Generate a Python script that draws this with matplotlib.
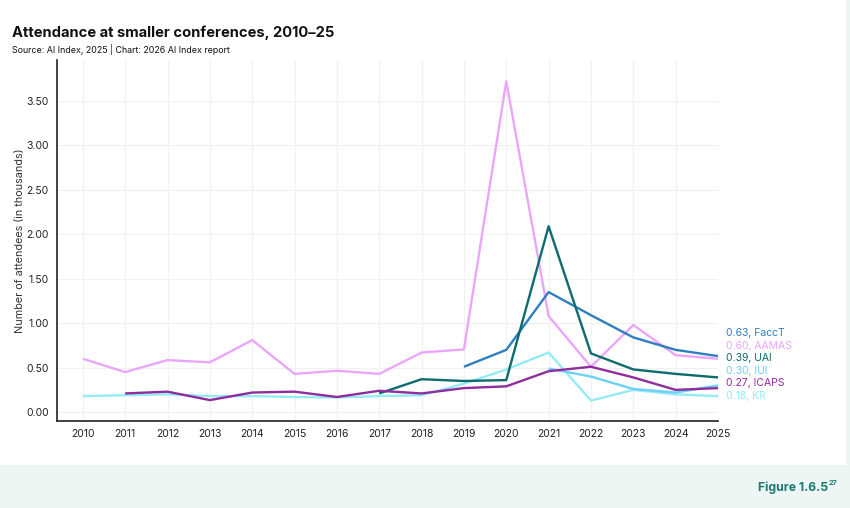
import matplotlib.pyplot as plt
import matplotlib.patches as mpatches
import numpy as np

plt.rcParams['font.family'] = ['Inter', 'DejaVu Sans']

years = list(range(2010, 2026))

# attendance in thousands, None = no data
aamas = [0.60, 0.45, 0.585, 0.56, 0.81, 0.43, 0.465, 0.43, 0.67, 0.705, 3.72, 1.08, 0.51, 0.98, 0.64, 0.60]
facct = [None] * 9 + [0.51, 0.70, 1.35, 1.09, 0.84, 0.70, 0.63]
uai = [None] * 7 + [0.21, 0.37, 0.35, 0.36, 2.09, 0.66, 0.48, 0.43, 0.39]
iui = [None] * 11 + [0.49, 0.40, 0.26, 0.22, 0.30]
icaps = [None, 0.21, 0.23, 0.135, 0.22, 0.23, 0.17, 0.24, 0.21, 0.27, 0.29, 0.46, 0.51, 0.39, 0.25, 0.27]
kr = [0.18, 0.19, 0.20, 0.18, 0.18, 0.17, 0.165, 0.18, 0.19, 0.32, 0.48, 0.67, 0.13, 0.25, 0.20, 0.18]

names = ['FaccT', 'AAMAS', 'UAI', 'IUI', 'ICAPS', 'KR']
series = [facct, aamas, uai, iui, icaps, kr]
colors = ['#2e7ec0', '#eaa6fb', '#0d6b6e', '#6dd0f7', '#8e2d9b', '#93ecf3']
# draw order (back to front)
order = ['KR', 'AAMAS', 'IUI', 'FaccT', 'UAI', 'ICAPS']

mint = '#edf6f3'
fig = plt.figure(figsize=(8.5, 5.08), dpi=100, facecolor=mint)
fig.patches.append(mpatches.Rectangle((0, 43 / 508), 846 / 850, 1, transform=fig.transFigure,
                                      facecolor='white', edgecolor='none', zorder=-10))

ax = fig.add_axes([57 / 850, 87 / 508, 661 / 850, 361 / 508])
ax.set_facecolor('white')

for nm in order:
    i = names.index(nm)
    y = np.array([np.nan if v is None else v for v in series[i]], dtype=float)
    ax.plot(years, y, color=colors[i], lw=1.7, solid_capstyle='butt', zorder=3)

ax.set_xlim(2009.39, 2025)
ax.set_ylim(-0.1, 3.96)
ax.set_xticks(years)
ax.set_xticklabels([str(y) for y in years], fontsize=7.5, color='#222222')
ax.set_yticks(np.arange(0, 3.51, 0.5))
ax.set_yticklabels(['%.2f' % v for v in np.arange(0, 3.51, 0.5)], fontsize=7.5, color='#222222')
ax.tick_params(length=0, pad=6)
ax.grid(True, color='#f1f1f1', lw=0.8, zorder=0)
ax.set_axisbelow(True)
for s in ['top', 'right']:
    ax.spines[s].set_visible(False)
for s in ['left', 'bottom']:
    ax.spines[s].set_color('#222222')
    ax.spines[s].set_linewidth(1.2)
ax.set_ylabel('Number of attendees (in thousands)', fontsize=7.8, color='#333333', labelpad=1)

# end labels, pushed apart from the bottom up
last = [[v for v in s if v is not None][-1] for s in series]
idx = sorted(range(len(names)), key=lambda k: last[k])
gap = 0.142
prev = None
label_y = {}
for k in idx:
    yv = last[k] if prev is None else max(last[k], prev + gap)
    label_y[k] = yv
    prev = yv
for k in range(len(names)):
    ax.annotate('%.2f, %s' % (last[k], names[k]), xy=(2025, label_y[k]), xytext=(6, 0),
                textcoords='offset points', va='center', ha='left', fontsize=7.5,
                color=colors[k], annotation_clip=False)

fig.text(12 / 850, 1 - 37 / 508, 'Attendance at smaller conferences, 2010–25',
         fontsize=10.6, fontweight='bold', color='#111111', va='baseline')
fig.text(12 / 850, 1 - 53 / 508, 'Source: AI Index, 2025 | Chart: 2026 AI Index report',
         fontsize=6.4, color='#111111', va='baseline')

fig.text(828 / 850, 1 - 491 / 508, 'Figure 1.6.5', fontsize=8.8, fontweight='bold',
         color='#1b7a74', ha='right', va='baseline')
fig.text(829 / 850, 1 - 485 / 508, '27', fontsize=5.2, fontweight='bold',
         color='#1b7a74', ha='left', va='baseline')

fig.savefig('out.png', dpi=100, facecolor=fig.get_facecolor())
